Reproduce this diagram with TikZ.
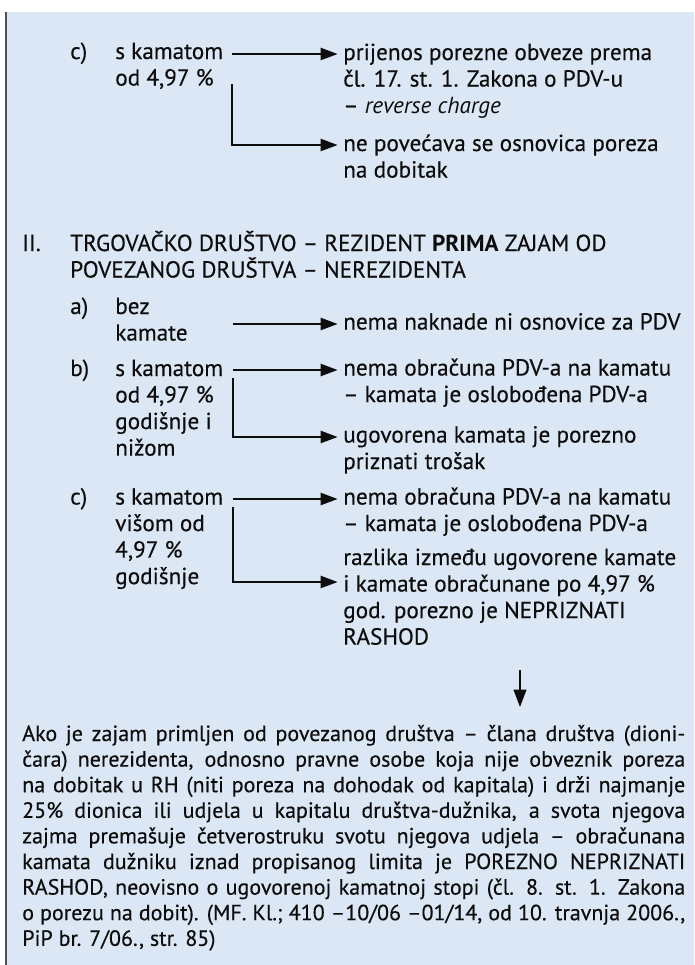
\documentclass[tikz,border=0pt]{standalone}
\usepackage{fontspec}
\setmainfont{PT Sans}[UprightFeatures={FakeBold=0.35}]
\usetikzlibrary{arrows.meta}
\definecolor{bgblue}{HTML}{DBE7F4}
\definecolor{edgegray}{HTML}{505050}
\definecolor{ink}{HTML}{0D0D0D}
\newcommand{\stk}[1]{\vtop{\baselineskip=19.9pt\lineskiplimit=-40pt\lineskip=0pt #1}}
\newcommand{\txtrow}[1]{\hbox{#1}}
\newcommand{\jrow}[1]{\hbox{\makebox[497.25pt][s]{#1}}}
\begin{document}
\begin{tikzpicture}[x=0.75pt,y=-0.75pt,
  txt/.style={anchor=base west, inner sep=0pt, font=\fontsize{17.4}{19.9}\selectfont, text=ink},
  ptxt/.style={anchor=base west, inner sep=0pt, font=\fontsize{16.5}{19.2}\selectfont, text=ink},
  arr/.style={line width=1.7pt, draw=ink, -{Triangle[length=12.75pt,width=9pt]}, shorten >=4pt},
  darr/.style={line width=1.3pt, draw=ink, -{Triangle[length=13pt,width=9.5pt]}}
]
\useasboundingbox (0,0) rectangle (694,965);
\fill[white] (0,0) rectangle (694,965);
\fill[bgblue] (6,12) rectangle (694,965);
\draw[edgegray, line width=1.5pt] (5.5,12) -- (5.5,965);

% ---- top part (c)
\node[txt] (tlab) at (70,59) {c)};
\node[txt] (tL) at (115,59) {\stk{\txtrow{s kamatom}\txtrow{od 4,97 \%}}};
\node[txt] (tR1) at (343,60) {\stk{\txtrow{prijenos porezne obveze prema}\txtrow{čl. 17. st. 1. Zakona o PDV-u}\txtrow{– \textit{reverse charge}}}};
\node[txt] (tR2) at (343,151) {\stk{\txtrow{ne povećava se osnovica poreza}\txtrow{na dobitak}}};
\coordinate (t0) at (232,54);
\coordinate (t1) at (232,84);
\coordinate (t2) at (232,145);
\draw[arr] (t0) -- (t0 -| tR1.west);
\draw[arr] (t1) -- (t2) -- (t2 -| tR2.west);

% ---- section II
\node[txt] (hnum) at (22,251) {II.};
\node[txt] (head) at (70,251) {\stk{\txtrow{TRGOVAČKO DRUŠTVO – REZIDENT \textbf{PRIMA} ZAJAM OD}\txtrow{POVEZANOG DRUŠTVA – NEREZIDENTA}}};

% a)
\node[txt] (alab) at (70,314) {a)};
\node[txt] (aL) at (115,314) {\stk{\txtrow{bez}\txtrow{kamate}}};
\node[txt] (aR) at (343,329.5) {nema naknade ni osnovice za PDV};
\coordinate (a0) at (233,324);
\draw[arr] (a0) -- (a0 -| aR.west);

% b)
\node[txt] (blab) at (70,376) {b)};
\node[txt] (bL) at (115,376) {\stk{\txtrow{s kamatom}\txtrow{od 4,97 \%}\txtrow{godišnje i}\txtrow{nižom}}};
\node[txt] (bR1) at (343,375.5) {\stk{\txtrow{nema obračuna PDV-a na kamatu}\txtrow{– kamata je oslobođena PDV-a}}};
\node[txt] (bR2) at (343,442.5) {\stk{\txtrow{ugovorena kamata je porezno}\txtrow{priznati trošak}}};
\coordinate (b0) at (233,370);
\coordinate (b1) at (233,378);
\coordinate (b2) at (233,437);
\draw[arr] (b0) -- (b0 -| bR1.west);
\draw[arr] (b1) -- (b2) -- (b2 -| bR2.west);

% c)
\node[txt] (clab) at (70,504.5) {c)};
\node[txt] (cL) at (115,504.5) {\stk{\txtrow{s kamatom}\txtrow{višom od}\txtrow{4,97 \%}\txtrow{godišnje}}};
\node[txt] (cR1) at (343,504.5) {\stk{\txtrow{nema obračuna PDV-a na kamatu}\txtrow{– kamata je oslobođena PDV-a}}};
\node[txt] (cR2) at (343,565) {\stk{\txtrow{razlika između ugovorene kamate}\txtrow{i kamate obračunane po 4,97 \%}\txtrow{god. porezno je NEPRIZNATI}\txtrow{RASHOD}}};
\coordinate (c0) at (233,499);
\coordinate (c1) at (233,507);
\coordinate (c2) at (233,582);
\draw[arr] (c0) -- (c0 -| cR1.west);
\draw[arr] (c1) -- (c2) -- (c2 -| cR2.west);

% ---- paragraph
\node[ptxt] (para) at (22,741) {\vtop{\baselineskip=19.2pt\lineskiplimit=-40pt\lineskip=0pt
\jrow{Ako je zajam primljen od povezanog društva – člana društva (dioni-}
\jrow{čara) nerezidenta, odnosno pravne osobe koja nije obveznik poreza}
\jrow{na dobitak u RH (niti poreza na dohodak od kapitala) i drži najmanje}
\jrow{25\% dionica ili udjela u kapitalu društva-dužnika, a svota njegova}
\jrow{zajma premašuje četverostruku svotu njegova udjela – obračunana}
\jrow{kamata dužniku iznad propisanog limita je POREZNO NEPRIZNATI}
\jrow{RASHOD, neovisno o ugovorenoj kamatnoj stopi (čl. 8. st. 1. Zakona}
\jrow{o porezu na dobit). (MF. Kl.; 410 –10/06 –01/14, od 10. travnja 2006.,}
\txtrow{PiP br. 7/06., str. 85)}}};
\coordinate (d0) at (520,670);
\coordinate (d1) at (520,707);
\draw[darr] (d0) -- (d1);
\end{tikzpicture}
\end{document}
